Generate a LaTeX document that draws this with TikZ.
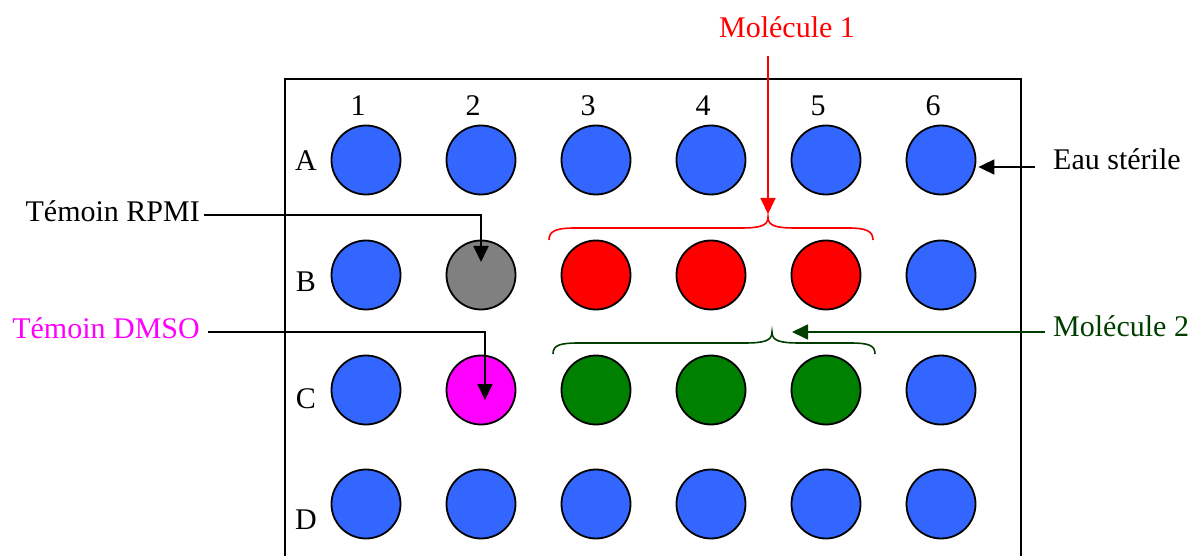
\documentclass[tikz,border=0pt]{standalone}
\usepackage{fontspec}
\setmainfont{Liberation Serif}
\usetikzlibrary{arrows.meta,calc}
\definecolor{wblue}{RGB}{51,102,255}
\definecolor{wgreen}{RGB}{0,128,0}
\definecolor{wgray}{RGB}{128,128,128}
\definecolor{wred}{RGB}{255,0,0}
\definecolor{wmag}{RGB}{255,0,255}
\definecolor{dgreen}{RGB}{0,62,0}
\begin{document}
\begin{tikzpicture}[x=1pt,y=-1pt,
  well/.style={circle,draw=black,line width=1.8pt,minimum size=69pt,inner sep=0pt},
  lbl/.style={inner sep=0pt,font=\fontsize{30}{36}\selectfont},
  conn/.style={line width=1.8pt,-{Triangle[length=16pt,width=15pt]}},
  bracestyle/.style={line width=1.6pt},
]
\useasboundingbox (0,0) rectangle (1195,556);
% plate frame
\draw[line width=2pt] (285,556) -- (285,79) -- (1021,79) -- (1021,556);
% wells
\foreach \r/\y/\cols in {
  A/160/{wblue,wblue,wblue,wblue,wblue,wblue},
  B/275/{wblue,wgray,wred,wred,wred,wblue},
  C/390/{wblue,wmag,wgreen,wgreen,wgreen,wblue},
  D/504/{wblue,wblue,wblue,wblue,wblue,wblue}}{
  \foreach \col [count=\c] in \cols {
    \node[well,fill=\col] (w\r\c) at ({251+115*\c},\y) {};
  }
}
% column numbers
\foreach \c in {1,...,6} {
  \node[lbl,anchor=base] (n\c) at ({243+115*\c},116) {\c};
}
% row letters
\node[lbl,anchor=base] (rA) at (306,171) {A};
\node[lbl,anchor=base] (rB) at (306,291) {B};
\node[lbl,anchor=base] (rC) at (306,408) {C};
\node[lbl,anchor=base] (rD) at (306,529) {D};
% labels
\node[lbl,anchor=base east] (rpmi) at (200,222) {Témoin RPMI};
\node[lbl,anchor=base east,text=wmag] (dmso) at (200,338) {Témoin DMSO};
\node[lbl,anchor=base west] (eau) at (1053,170) {Eau stérile};
\node[lbl,anchor=base west,text=dgreen] (m2) at (1053,337) {Molécule 2};
\node[lbl,anchor=base,text=wred] (m1) at (787,38) {Molécule 1};
% braces
\draw[bracestyle,wred] (549,240) .. controls (549,231) and (556,228) .. (575,228) -- (740,228)
  .. controls (760,228) and (768,226) .. (768,217)
  .. controls (768,226) and (776,228) .. (796,228) -- (848,228)
  .. controls (866,228) and (873,231) .. (873,240);
\coordinate (b1tip) at (768,217);
\draw[bracestyle,dgreen] (553,354) .. controls (553,345) and (560,343) .. (579,343) -- (744,343)
  .. controls (764,343) and (772,341) .. (772,332)
  .. controls (772,341) and (780,343) .. (800,343) -- (850,343)
  .. controls (868,343) and (875,345) .. (875,354);
\coordinate (b2tip) at (772,332);
% connectors
\draw[conn] ([shift={(4,-7)}]rpmi.base east) -| ([yshift=13pt]wB2.center);
\draw[conn] ([shift={(8,-6)}]dmso.base east) -| ([shift={(4pt,-10pt)}]wC2.center);
\draw[conn] ([shift={(-18,-3)}]eau.base west) -- ([shift={(2pt,-7pt)}]wA6.east);
\draw[conn,dgreen] ([shift={(-8,-5)}]m2.base west) -- ([xshift=20pt]b2tip);
\draw[conn,wred] ($(b1tip |- m1.base)+(0,18)$) -- ([yshift=3pt]b1tip);
\end{tikzpicture}
\end{document}
